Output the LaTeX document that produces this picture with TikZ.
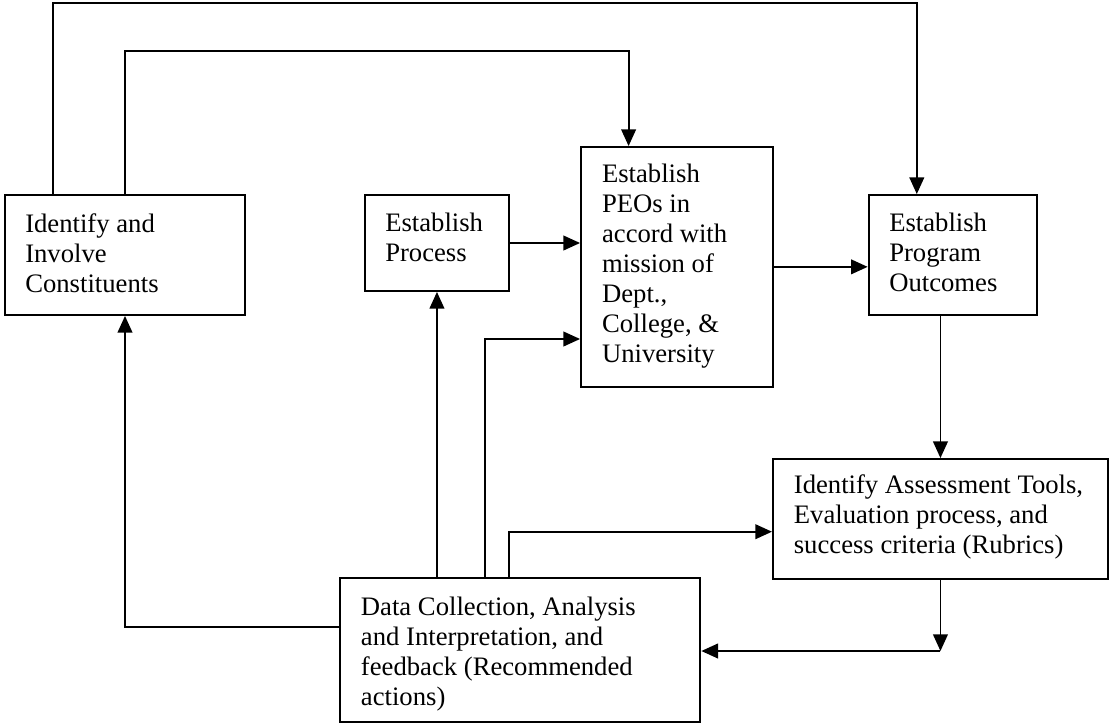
\documentclass[tikz,border=0pt]{standalone}
\usepackage{fontspec}
\setmainfont{Liberation Serif}
\usetikzlibrary{arrows.meta}
\newcommand{\lines}[1]{\begin{tabular}[t]{@{}l@{}}#1\end{tabular}}
\tikzset{
  boxnode/.style={draw, line width=1.4pt, rectangle, inner sep=0pt},
  txtnode/.style={anchor=base west, inner sep=0pt, font=\fontsize{20}{22.5}\selectfont},
  arr/.style={line width=1.4pt, -{Triangle[length=12.5pt,width=11pt]}},
}
\begin{document}
\begin{tikzpicture}[x=0.75pt,y=-0.75pt]
\useasboundingbox (0,0) rectangle (1110,725);
% boxes
\node[boxnode, minimum width=180.6pt, minimum height=90pt] (A) at (125,255) {};
\node[boxnode, minimum width=108.5pt, minimum height=72pt] (B) at (436.95,243) {};
\node[boxnode, minimum width=144.15pt, minimum height=179.8pt] (C) at (677.1,266.85) {};
\node[boxnode, minimum width=126.15pt, minimum height=90pt] (D) at (952.7,255) {};
\node[boxnode, minimum width=251.3pt, minimum height=90pt] (E) at (940.45,519) {};
\node[boxnode, minimum width=270.3pt, minimum height=107.55pt] (F) at (520.2,650) {};
% texts
\node[txtnode] (At) at (25,232) {\lines{Identify and\\Involve\\Constituents}};
\node[txtnode] (Bt) at (385,231) {\lines{Establish\\Process}};
\node[txtnode] (Ct) at (601.8,182) {\lines{Establish\\PEOs in\\accord with\\mission of\\Dept.,\\College, \&\\University}};
\node[txtnode] (Dt) at (889,231) {\lines{Establish\\Program\\Outcomes}};
\node[txtnode] (Et) at (793.6,493) {\lines{Identify Assessment Tools,\\Evaluation process, and\\success criteria (Rubrics)}};
\node[txtnode] (Ft) at (360.7,615) {\lines{Data Collection, Analysis\\and Interpretation, and\\feedback (Recommended\\actions)}};
% connectors
\coordinate (p1) at (53.2,3.3);
\coordinate (p2) at (916.8,3.3);
\draw[arr] (A.north -| p1) -- (p1) -- (p2) -- (D.north -| p2);
\coordinate (q1) at (125,51);
\coordinate (q2) at (628.6,51);
\draw[arr] (A.north -| q1) -- (q1) -- (q2) -- (C.north -| q2);
\draw[arr] (B.east) -- (C.west |- B.east);
\draw[arr] (C.east) -- (D.west |- C.east);
\draw[arr] (D.south -| E.north) -- (E.north);
\coordinate (r) at (940.45,651);
\draw[arr] (E.south) -- (r);
\draw[arr] (r) -- (F.east |- r);
\draw[arr] (F.north -| B.south) -- (B.south);
\coordinate (s) at (484.6,339);
\draw[arr] (F.north -| s) -- (s) -- (C.west |- s);
\coordinate (t) at (509,531.7);
\draw[arr] (F.north -| t) -- (t) -- (E.west |- t);
\coordinate (u) at (125,626.7);
\draw[arr] (F.west |- u) -- (u) -- (A.south);
\end{tikzpicture}
\end{document}
